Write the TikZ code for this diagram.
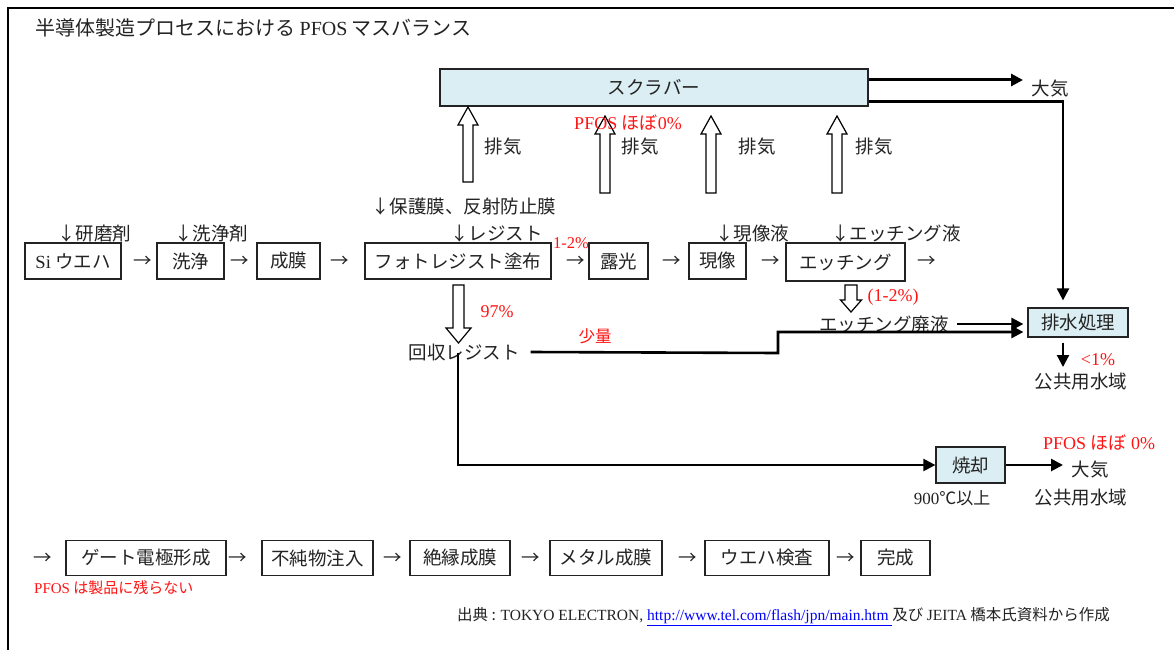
\documentclass[tikz,border=0pt]{standalone}
\usepackage{fontspec}
\setmainfont{Noto Sans CJK JP}
\newfontfamily\lat{Liberation Serif}
\usetikzlibrary{arrows.meta}
\definecolor{boxblue}{RGB}{219,238,243}
\definecolor{ink}{RGB}{35,35,35}
\definecolor{redtxt}{RGB}{255,20,20}
% x, y of base, y of head base, y of tip, shaft half width, head half width
\newcommand\blockarrow[6]{%
  \draw[hollow] (#1-#5,#2) -- (#1-#5,#3) -- (#1-#6,#3) -- (#1,#4) -- (#1+#6,#3) -- (#1+#5,#3) -- (#1+#5,#2) -- cycle;}
\tikzset{
  every node/.style={inner sep=0pt, text=ink},
  lbl/.style={font=\fontsize{18.5}{20}\selectfont},
  redlbl/.style={font=\fontsize{18}{20}\selectfont\lat, text=redtxt},
  box/.style={draw=ink, line width=1.2pt, font=\fontsize{18.5}{20}\selectfont, minimum height=36pt},
  bluebox/.style={box, fill=boxblue},
  fat/.style={draw=black, line width=2.6pt, -{Triangle[length=12pt,width=12pt]}},
  hollow/.style={draw=black, line width=1.2pt, fill=white},
}
\begin{document}
\begin{tikzpicture}[x=1pt, y=-1pt]
\useasboundingbox (0,0) rectangle (1174,650);
\fill[white] (0,0) rectangle (1174,650);
\draw[line width=2pt] (8,650) -- (8,8) -- (1174,8);

\node[anchor=west, font=\fontsize{20}{22}\selectfont] (title) at (35,28) {半導体製造プロセスにおける {\lat PFOS} マスバランス};

% scrubber
\node[bluebox, minimum width=428pt, minimum height=37pt] (scrub) at (654,87.5) {スクラバー};
\node[lbl] (taiki1) at (1050,89) {大気};
\coordinate (t1) at (1023,80);
\draw[fat, line width=3pt] (scrub.east |- t1) -- (t1);

% main row
\node[box, minimum width=96pt] (si) at (73,261) {{\lat Si} ウエハ};
\node[box, minimum width=67pt] (sen) at (190.5,261) {洗浄};
\node[box, minimum width=63pt] (seimaku) at (288.5,261) {成膜};
\node[box, minimum width=186pt] (photo) at (458,261) {フォトレジスト塗布};
\node[box, minimum width=59pt] (roko) at (618.5,261) {露光};
\node[box, minimum width=57pt] (gen) at (717.5,261) {現像};
\node[box, minimum width=119pt, minimum height=38pt] (etch) at (845.5,262) {エッチング};
\foreach \x/\n in {143/a1,240/a2,340/a3,576/a4,672/a5,771/a6,927/a7}
  \node[lbl] (\n) at (\x,262) {→};

\node[lbl, anchor=west] (kenma) at (57,234) {↓研磨剤};
\node[lbl, anchor=west] (senjo) at (174,234) {↓洗浄剤};
\node[lbl, anchor=west] (hogo) at (371,207) {↓保護膜、反射防止膜};
\node[lbl, anchor=west] (resist) at (450,234) {↓レジスト};
\node[lbl, anchor=west] (genzo) at (715,234) {↓現像液};
\node[lbl, anchor=west] (etchl) at (831,234) {↓エッチング液};
\node[redlbl, font=\fontsize{16.5}{18}\selectfont\lat] (p12a) at (571,243) {1-2\%};

% exhaust arrows
\blockarrow{468}{182}{125}{107}{5}{10}
\blockarrow{605}{193}{134}{116}{5}{10}
\blockarrow{711}{193}{134}{116}{5}{10}
\blockarrow{837}{193}{134}{116}{5}{10}
\node[lbl] (hk1) at (503,147) {排気};
\node[lbl] (hk2) at (640,147) {排気};
\node[lbl] (hk3) at (757,147) {排気};
\node[lbl] (hk4) at (874,147) {排気};
\node[redlbl] (pf1) at (628,123) {PFOS {\rmfamily ほぼ}0\%};

% resist recovery
\blockarrow{458.5}{285}{328}{343}{5.5}{12.5}
\node[redlbl] (p97) at (497,312) {97\%};
\node[lbl] (kaishu) at (464,352) {回収レジスト};
\node[font=\fontsize{16.5}{18}\selectfont, text=redtxt] (shoryo) at (595,336) {少量};

% etching waste
\blockarrow{851}{285}{300}{312}{6}{10.5}
\node[redlbl] (p12b) at (893,297) {(1-2\%)};
\node[lbl] (etchw) at (884,324) {エッチング廃液};

% waste water treatment
\node[bluebox, minimum width=100pt, minimum height=29pt] (haisui) at (1078,322.5) {排水処理};
\draw[fat, line width=2.2pt, shorten >=7pt] ([yshift=-14]scrub.east) -| ([xshift=-15]haisui.north);
\draw[fat, line width=2.6pt, shorten >=4pt] ([xshift=8]etchw.east) -- (haisui.west |- etchw.east);
\coordinate (k1) at (778,353);
\coordinate (k2) at (778,332);
\draw[fat, line width=2.6pt, shorten >=4pt] ([xshift=11]kaishu.east) -- (k1) -- (k2) -- (haisui.west |- k2);
\coordinate (hd) at (1063,367);
\draw[fat, line width=2.2pt] ([xshift=-15,yshift=-5]haisui.south) -- (hd);
\node[redlbl] (lt1) at (1098,360) {<1\%};
\node[lbl] (kokyo1) at (1081,382) {公共用水域};

% incineration
\node[bluebox, minimum width=69pt, minimum height=36pt] (shokyaku) at (970.5,465) {焼却};
\draw[fat, line width=2.2pt] ([yshift=8]kaishu.south -| 458,0) |- (shokyaku.west);
\coordinate (t2) at (1063,465);
\draw[fat, line width=2.6pt] (shokyaku.east) -- (t2);
\node[lbl] (taiki2) at (1090,470) {大気};
\node[redlbl] (pf2) at (1099,443) {PFOS {\rmfamily ほぼ} 0\%};
\node[font=\fontsize{17}{19}\selectfont] (c900) at (952,498) {{\lat 900}℃以上};
\node[lbl] (kokyo2) at (1081,498) {公共用水域};

% bottom row
\node[box, minimum width=160pt, minimum height=35pt] (gate) at (146,558) {ゲート電極形成};
\node[box, minimum width=111pt, minimum height=35pt] (fujun) at (317.5,558) {不純物注入};
\node[box, minimum width=100pt, minimum height=35pt] (zetsu) at (460,558) {絶縁成膜};
\node[box, minimum width=112pt, minimum height=35pt] (metal) at (606,558) {メタル成膜};
\node[box, minimum width=124pt, minimum height=35pt] (insp) at (767,558) {ウエハ検査};
\node[box, minimum width=69pt, minimum height=35pt] (kansei) at (895.5,558) {完成};
\foreach \x/\n in {43/b1,238/b2,393/b3,531/b4,688/b5,846/b6}
  \node[lbl] (\n) at (\x,559) {→};

\node[anchor=west, font=\fontsize{15}{17}\selectfont, text=redtxt] (nokoranai) at (34,588) {{\lat PFOS} は製品に残らない};
\node[anchor=west, font=\fontsize{15.5}{17}\selectfont] (src) at (457,617) {出典 : {\lat TOKYO ELECTRON, }{\lat\color{blue}\underline{http://www.tel.com/flash/jpn/main.htm }}及び {\lat JEITA} 橋本氏資料から作成};
\end{tikzpicture}
\end{document}
